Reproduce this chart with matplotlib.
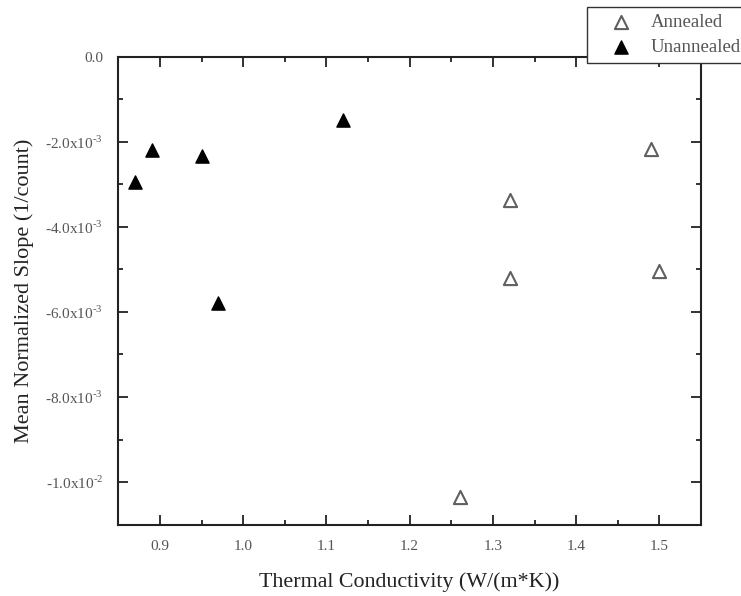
import matplotlib
matplotlib.use("Agg")
import matplotlib.pyplot as plt
from matplotlib.ticker import MultipleLocator, FixedLocator, FixedFormatter

plt.rcParams['font.family'] = ['Liberation Serif', 'DejaVu Serif']
plt.rcParams['mathtext.fontset'] = 'custom'
plt.rcParams['mathtext.rm'] = 'Liberation Serif'

annealed_x = [1.32, 1.32, 1.49, 1.50, 1.26]
annealed_y = [-3.36e-3, -5.20e-3, -2.18e-3, -5.04e-3, -10.36e-3]
unannealed_x = [0.87, 0.89, 0.95, 0.97, 1.12]
unannealed_y = [-2.95e-3, -2.20e-3, -2.34e-3, -5.78e-3, -1.49e-3]

y_ticks = [0.0, -2e-3, -4e-3, -6e-3, -8e-3, -1e-2]
y_labels = ['0.0', r'-2.0x10$^{\text{-3}}$', r'-4.0x10$^{\text{-3}}$', r'-6.0x10$^{\text{-3}}$',
            r'-8.0x10$^{\text{-3}}$', r'-1.0x10$^{\text{-2}}$']

fig = plt.figure(figsize=(7.41, 5.96), dpi=100)
ax = fig.add_axes([118.3/741, 1-524.7/596, (701-118.3)/741, (524.7-56.5)/596])

ax.scatter(annealed_x, annealed_y, marker='^', s=90, facecolors='white',
           edgecolors='#606060', linewidths=1.5, label='Annealed', zorder=3)
ax.scatter(unannealed_x, unannealed_y, marker='^', s=90, facecolors='black',
           edgecolors='black', linewidths=1.0, label='Unannealed', zorder=3)

ax.set_xlim(0.85, 1.55)
ax.set_ylim(-0.011, 0.0)
ax.xaxis.set_major_locator(MultipleLocator(0.1))
ax.xaxis.set_minor_locator(MultipleLocator(0.05))
ax.yaxis.set_major_locator(FixedLocator(y_ticks))
ax.yaxis.set_major_formatter(FixedFormatter(y_labels))
ax.yaxis.set_minor_locator(MultipleLocator(1e-3))
ax.xaxis.set_major_formatter(plt.FuncFormatter(lambda v, p: f'{v:.1f}'))

ax.tick_params(which='both', direction='in', top=True, right=True, colors='#222222',
               labelcolor='#555555', labelsize=11, width=1.3)
ax.tick_params(which='major', length=7, pad=11)
ax.tick_params(which='minor', length=3.5)
for sp in ax.spines.values():
    sp.set_linewidth(1.5)
    sp.set_color('#222222')

ax.set_xlabel('Thermal Conductivity (W/(m*K))', fontsize=15.8, color='#222222', labelpad=14)
ax.set_ylabel('Mean Normalized Slope (1/count)', fontsize=16, color='#222222', labelpad=8)

leg = fig.legend(loc='upper left', bbox_to_anchor=(587/741, 1-7/596), frameon=True,
                 fancybox=False, fontsize=13.5, handletextpad=0.15, borderpad=0.35,
                 labelspacing=0.45, handlelength=2.9, borderaxespad=0)
leg.get_frame().set_edgecolor('#333333')
leg.get_frame().set_linewidth(1.0)
leg.get_frame().set_alpha(1.0)
for t in leg.get_texts():
    t.set_color('#555555')

fig.savefig('out.png', dpi=100)
